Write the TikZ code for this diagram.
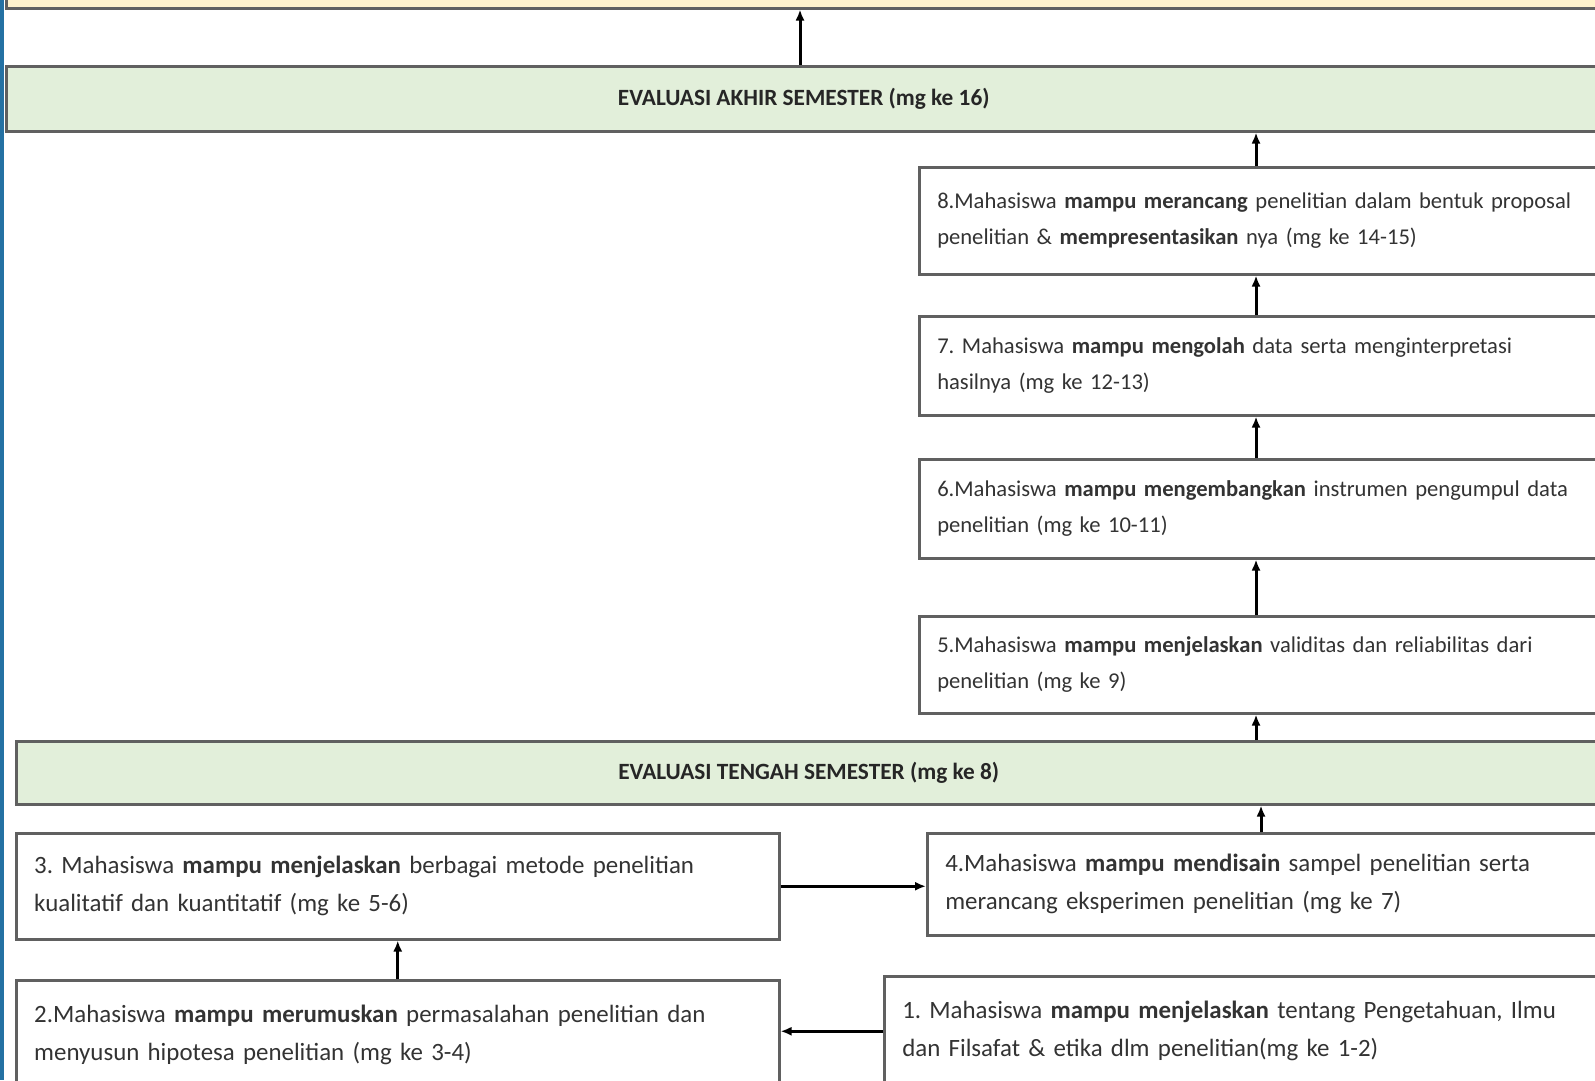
\documentclass[tikz,border=0pt]{standalone}
\usepackage{fontspec}
\setmainfont{Carlito}
\usetikzlibrary{positioning,arrows.meta}
\definecolor{evalgreen}{HTML}{E2EFDA}
\definecolor{cplyellow}{HTML}{FFF2CC}
\definecolor{edgegray}{HTML}{606060}
\definecolor{sidebar}{HTML}{2471A3}
\frenchspacing
\tikzset{
  basic/.style = {draw=edgegray, rectangle, line width=2.5pt},
  goal/.style = {basic, fill=white, anchor=north west, align=left, inner xsep=18pt, inner ysep=0pt, text=black!80},
  lower/.style = {goal, font=\fontsize{24.9}{38}\selectfont},
  upper/.style = {goal, font=\fontsize{22.6}{36}\selectfont},
  exam/.style = {basic, fill=evalgreen, anchor=north west, inner sep=0pt, text=black!85, font=\bfseries\fontsize{23.3}{26}\selectfont},
  up/.style = {-{Latex[length=11pt,width=9pt]}, line width=3pt},
}

\begin{document}
\begin{tikzpicture}[x=1pt, y=-1pt]
 \useasboundingbox (0,0) rectangle (1595,1080);
 \clip (0,0) rectangle (1595,1080);
 \fill[white] (0,0) rectangle (1595,1080);

 % spines of the vertical arrows
 \coordinate (rspine) at (1256,0);
 \coordinate (bspine) at (1261,0);

 \node[basic, fill=cplyellow, anchor=north west, minimum width=1620pt, minimum height=67pt] (cpl) at (5,-60) {};
 \node[exam, minimum width=1595pt, minimum height=65pt] (akhir) at (5,65) {EVALUASI AKHIR SEMESTER (mg ke 16)};

 \node[upper, text width=656pt, minimum height=107pt] (goal8) at (918,166)
   {8.Mahasiswa \textbf{mampu merancang} penelitian dalam bentuk proposal\\
    penelitian \& \textbf{mempresentasikan} nya (mg ke 14-15)};
 \node[upper, text width=656pt, minimum height=99pt] (goal7) at (918,315)
   {7. Mahasiswa \textbf{mampu mengolah} data serta menginterpretasi\\
    hasilnya (mg ke 12-13)};
 \node[upper, text width=656pt, minimum height=99pt] (goal6) at (918,458)
   {6.Mahasiswa \textbf{mampu mengembangkan} instrumen pengumpul data\\
    penelitian (mg ke 10-11)};
 \node[upper, text width=656pt, minimum height=97pt] (goal5) at (918,615)
   {5.Mahasiswa \textbf{mampu menjelaskan} validitas dan reliabilitas dari\\
    penelitian (mg ke 9)};

 \node[exam, minimum width=1585pt, minimum height=63pt] (tengah) at (15,740) {EVALUASI TENGAH SEMESTER (mg ke 8)};

 \node[lower, text width=648pt, minimum height=102pt] (goal4) at (926,832)
   {4.Mahasiswa \textbf{mampu mendisain} sampel penelitian serta\\
    merancang eksperimen penelitian (mg ke 7)};
 \node[lower, text width=727pt, minimum height=106pt] (goal3) at (15,832)
   {3. Mahasiswa \textbf{mampu menjelaskan} berbagai metode penelitian\\
    kualitatif dan kuantitatif (mg ke 5-6)};
 \node[lower, text width=727pt, minimum height=110pt] (goal2) at (15,979)
   {2.Mahasiswa \textbf{mampu merumuskan} permasalahan penelitian dan\\
    menyusun hipotesa penelitian (mg ke 3-4)};
 \node[lower, text width=691pt, minimum height=110pt] (goal1) at (883,975)
   {1. Mahasiswa \textbf{mampu menjelaskan} tentang Pengetahuan, Ilmu\\
    dan Filsafat \& etika dlm penelitian(mg ke 1-2)};

 % flow of the goals
 \draw[up] (goal1.west) -- (goal1.west -| goal2.east);
 \draw[up] (goal2.north) -- (goal3.south);
 \draw[up] (goal3.east) -- (goal3.east -| goal4.west);
 \draw[up] (goal4.north -| bspine) -- (tengah.south -| bspine);
 \draw[up] (tengah.north -| rspine) -- (goal5.south -| rspine);
 \draw[up] (goal5.north -| rspine) -- (goal6.south -| rspine);
 \draw[up] (goal6.north -| rspine) -- (goal7.south -| rspine);
 \draw[up] (goal7.north -| rspine) -- (goal8.south -| rspine);
 \draw[up] (goal8.north -| rspine) -- (akhir.south -| rspine);
 \draw[up] (akhir.north -| 800,0) -- (cpl.south -| 800,0);

 \fill[sidebar] (0,0) rectangle (4,1080);
\end{tikzpicture}
\end{document}
